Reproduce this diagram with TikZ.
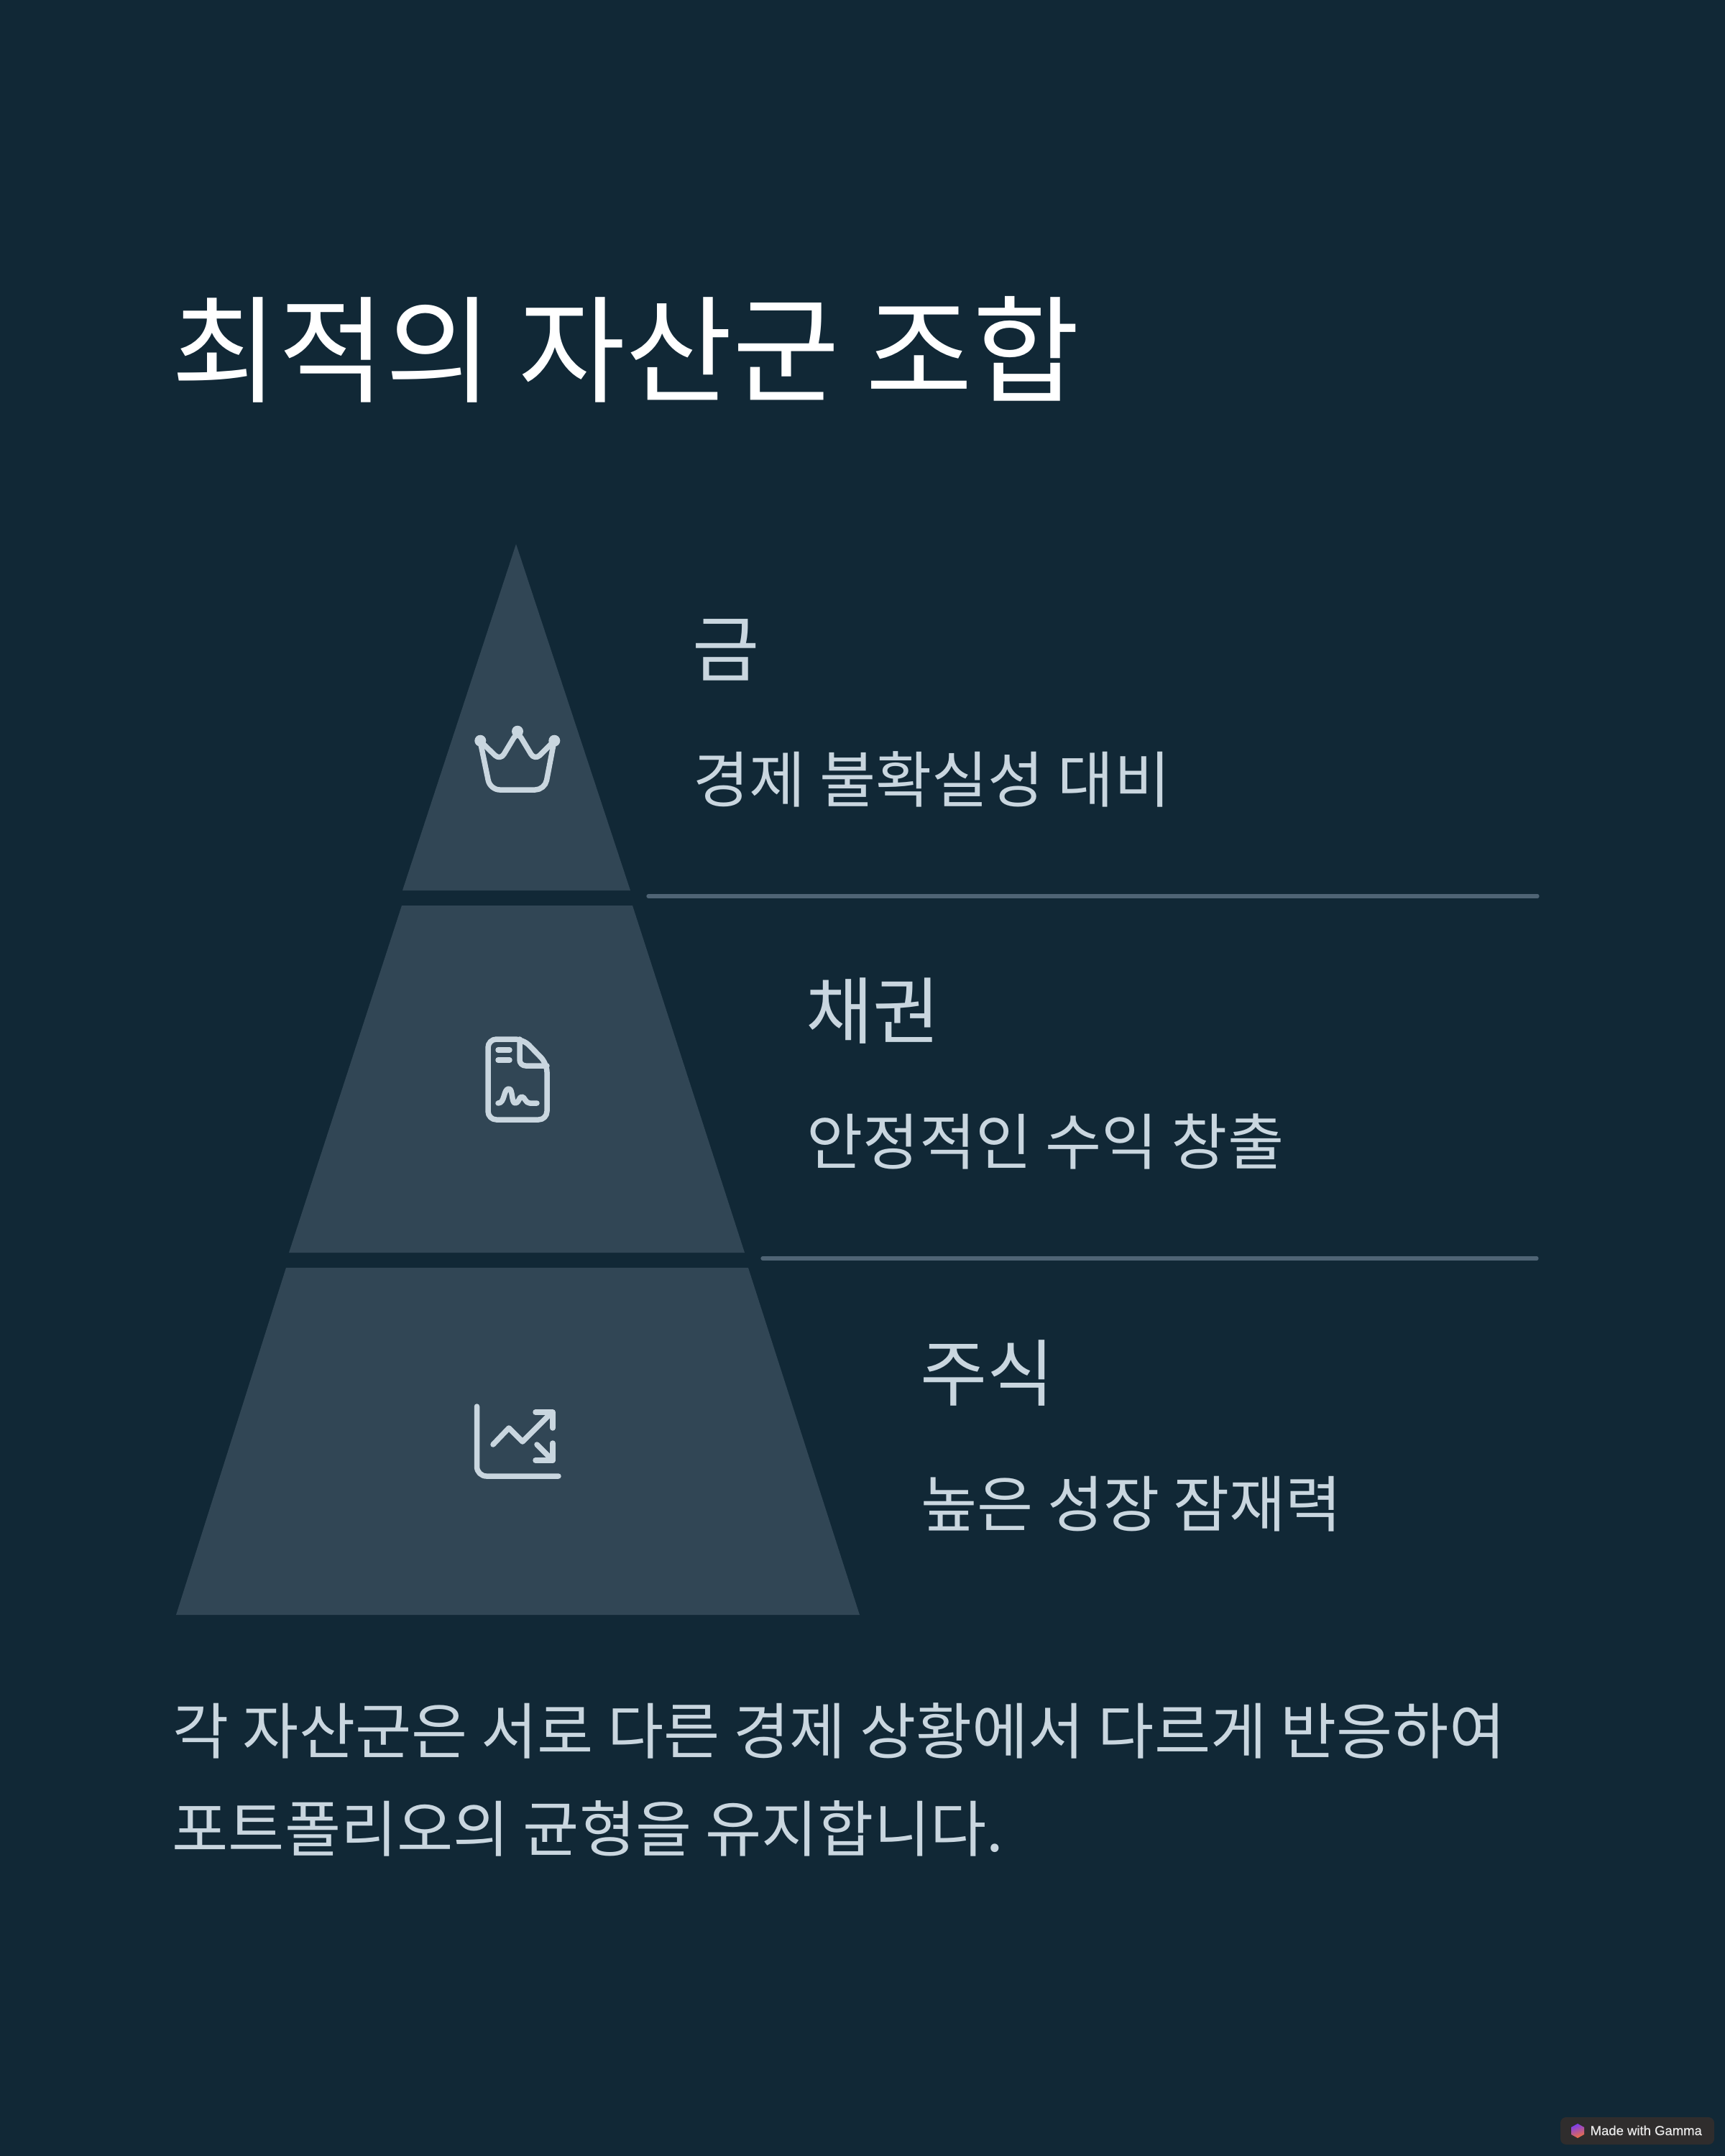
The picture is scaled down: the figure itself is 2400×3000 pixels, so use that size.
\documentclass[tikz,border=0pt]{standalone}
\usepackage{fontspec}
\setmainfont{Noto Sans CJK KR}
\newfontfamily\latinfont[FakeBold=0.25]{Liberation Sans}
\definecolor{bgc}{HTML}{112836}
\definecolor{tric}{HTML}{314655}
\definecolor{txtc}{HTML}{C9D6DF}
\definecolor{rulec}{HTML}{4F6475}
\definecolor{badgec}{HTML}{2F2D2D}
\definecolor{logoa}{HTML}{7A3DF0}
\definecolor{logob}{HTML}{F0703C}
\newcommand{\fsz}[1]{\fontsize{#1}{#1}\selectfont}
\tikzset{
 x=0.3pt,y=-0.3pt,
 tier/.style={fill=tric,draw=none},
 rulel/.style={draw=rulec,line width=1.6pt,line cap=round},
 icon/.style={draw=txtc,line width=2.25pt,line cap=round,line join=round},
 titlet/.style={anchor=base west,inner sep=0pt,text=white,font=\fsz{48.55}},
 headt/.style={anchor=base west,inner sep=0pt,text=txtc,font=\fsz{30.4}},
 bodyt/.style={anchor=base west,inner sep=0pt,text=txtc,font=\fsz{25.5}},
}
\begin{document}
\begin{tikzpicture}
\fill[bgc] (0,0) rectangle (2400,3000);
\useasboundingbox (0,0) rectangle (2400,3000);
\node[titlet] (title) at (238,547) {최적의 자산군 조합};
% pyramid
\fill[tier] (718,757) -- (877,1239) -- (560,1239) -- cycle;
\fill[tier] (559,1260) -- (880,1260) -- (1036,1743) -- (402,1743) -- cycle;
\fill[tier] (398,1764) -- (1041,1764) -- (1196,2247) -- (245,2247) -- cycle;
% rules
\coordinate (r1a) at (902,1247); \coordinate (r1b) at (2139,1247);
\coordinate (r2a) at (1061,1751); \coordinate (r2b) at (2138,1751);
\draw[rulel] (r1a) -- (r1b);
\draw[rulel] (r2a) -- (r2b);
% labels
\node[headt] (h1) at (963,940) {금};
\node[bodyt] (b1) at (964,1116) {경제 불확실성 대비};
\node[headt] (h2) at (1121,1444) {채권};
\node[bodyt] (b2) at (1122,1620) {안정적인 수익 창출};
\node[headt] (h3) at (1280,1948) {주식};
\node[bodyt] (b3) at (1281,2124) {높은 성장 잠재력};
\node[bodyt] (f1) at (240,2440) {각 자산군은 서로 다른 경제 상황에서 다르게 반응하여};
\node[bodyt] (f2) at (239,2576) {포트폴리오의 균형을 유지합니다.};
% crown
\draw[icon,rounded corners=4pt] (668,1031) -- (682,1099) -- (758,1099) -- (771,1031);
\draw[icon,rounded corners=3pt] (668,1031) -- (696,1058) -- (720,1018) -- (744,1058) -- (771,1031);
\fill[txtc] (668.3,1030.7) circle[radius=8] (720,1017.7) circle[radius=8] (771.3,1030.7) circle[radius=8];
% doc
\draw[icon,rounded corners=3.5pt] (679,1446) -- (728,1446) -- (761,1480) -- (761,1558) -- (679,1558) -- cycle;
\draw[icon,rounded corners=2.5pt] (723,1446) -- (723,1483) -- (761,1483);
\draw[icon] (693,1461) -- (709,1461);
\draw[icon] (693,1475) -- (709,1475);
\draw[icon] (693,1535) .. controls (703,1535) and (700,1515) .. (708,1515) .. controls (714,1515) and (711,1535) .. (717,1535) .. controls (722,1535) and (722,1526) .. (726,1526) .. controls (730,1526) and (731,1535) .. (737,1535) -- (747,1535);
% chart
\draw[icon,rounded corners=4pt] (663.5,1957) -- (663.5,2054) -- (777,2054);
\draw[icon] (686,2010) -- (708,1987) -- (727,2006) -- (768,1965);
\draw[icon] (745,1965) -- (769,1965) -- (769,1987);
\draw[icon] (747,2010) -- (769,2032);
\draw[icon] (745,2032) -- (769,2032) -- (769,2008);
% badge
\fill[badgec,rounded corners=2.4pt] (2171,2946) rectangle (2385,2984);
\shade[left color=logoa,right color=logob,shading angle=20] (2195,2955) -- (2204,2960) -- (2204,2970) -- (2195,2975) -- (2186,2970) -- (2186,2960) -- cycle;
\node[anchor=base west,inner sep=0pt,text=white!92!black,font=\latinfont\fsz{5.55}] (badge) at (2212,2971) {Made with Gamma};
\end{tikzpicture}
\end{document}
